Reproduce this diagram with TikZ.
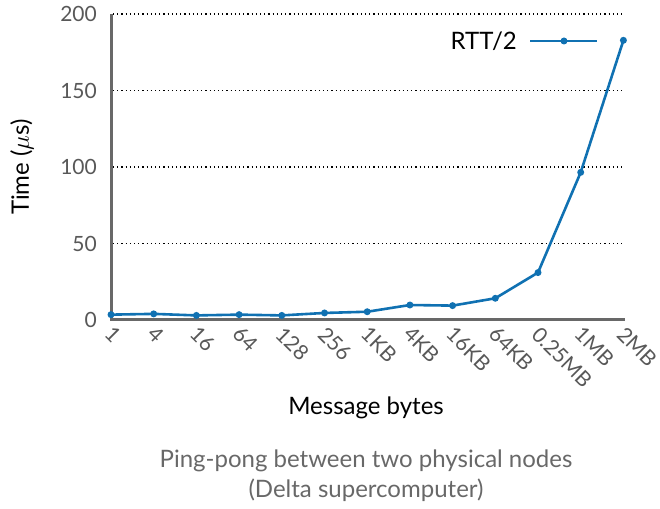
\documentclass[tikz,border=0pt]{standalone}
\usepackage{fontspec}
\setmainfont{Lato}
\usepackage{amsmath}
\definecolor{rttblue}{RGB}{16,113,178}
\definecolor{axisgray}{RGB}{104,104,104}
\definecolor{labelgray}{RGB}{88,88,88}
\tikzset{
  gridline/.style={dash pattern=on 1.2pt off 3pt, line width=1.1pt},
  axisline/.style={axisgray, line width=3pt},
  rttline/.style={rttblue, line width=2.6pt, line join=round},
  ticklabel/.style={text=labelgray, font=\fontsize{21}{25}\selectfont, inner sep=0pt},
  titlelabel/.style={font=\fontsize{24}{30}\selectfont, inner sep=0pt}
}

\begin{document}
\begin{tikzpicture}[x=1pt,y=1pt]
\useasboundingbox (0,0) rectangle (660,508);
% grid lines
\foreach \v in {50,100,150,200}
  \draw[gridline] (113, {188+1.53*\v}) -- (623, {188+1.53*\v});
% axes
\draw[axisline] (111,494) -- (111,188) -- (625,188);
% y tick labels
\foreach \v in {0,50,100,150,200}
  \node[ticklabel, anchor=east] (ytick\v) at (97, {188+1.53*\v}) {\v};
% x tick labels
\foreach \lab [count=\i from 0] in {1,4,16,64,128,256,1KB,4KB,16KB,64KB,0.25MB,1MB,2MB}
  \node[ticklabel, anchor=north west, rotate=-45] (xtick\i) at ({111+42.7*\i+3}, 183) {\lab};
% data points
\foreach \v [count=\i from 0] in {3.5,4,3,3.5,3,4.6,5.4,9.8,9.4,14.2,31,96.5,182.8}
  \coordinate (p\i) at ({111+42.7*\i}, {188+1.53*\v});
\draw[rttline] (p0) \foreach \i in {1,...,12} { -- (p\i) };
\foreach \i in {0,...,12}
  \fill[rttblue] (p\i) circle (3.5);
% legend
\node[titlelabel, anchor=east] (legtext) at (517,467) {RTT/2};
\coordinate (legA) at (530,467);
\coordinate (legM) at (564,467);
\coordinate (legB) at (597,467);
\draw[rttline] (legA) -- (legB);
\fill[rttblue] (legM) circle (3.5);
% titles
\node[titlelabel, rotate=90] (ytitle) at (22,341) {Time ($\mu$s)};
\node[titlelabel] (xtitle) at (366,100) {Message bytes};
\node[titlelabel, text=axisgray, align=center] (caption) at (366,32) {Ping-pong between two physical nodes\\(Delta supercomputer)};
\end{tikzpicture}
\end{document}
